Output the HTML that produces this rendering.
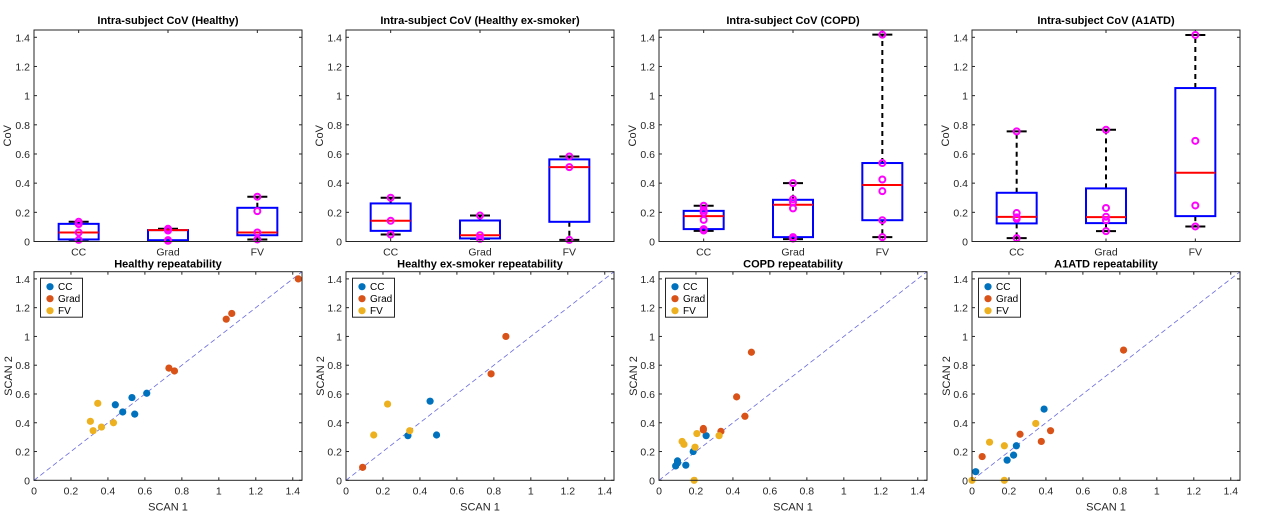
<!DOCTYPE html>
<html><head><meta charset="utf-8"><style>
body{margin:0;background:#fff;}
svg{display:block;font-family:"Liberation Sans",Arial,sans-serif;}
</style></head><body>
<svg id="fig" width="1278" height="519" viewBox="0 0 1278 519" xmlns="http://www.w3.org/2000/svg"></svg>
<script>
const panelTitles = ["Healthy","Healthy ex-smoker","COPD","A1ATD"];
const boxCategories = ["CC","Grad","FV"];
const yTicks = [0,0.2,0.4,0.6,0.8,1,1.2,1.4];
const yTickLabels = ["0","0.2","0.4","0.6","0.8","1","1.2","1.4"];
// box stats per panel per category: [whiskerLow, q1, median, q3, whiskerHigh]
const boxStatsHealthy = [[0.011,0.014,0.062,0.121,0.135],[0.005,0.009,0.078,0.078,0.087],[0.014,0.043,0.062,0.231,0.307]];
const boxStatsExSmoker = [[0.048,0.073,0.142,0.261,0.30],[0.018,0.021,0.043,0.144,0.178],[0.011,0.135,0.51,0.563,0.583]];
const boxStatsCOPD = [[0.073,0.085,0.174,0.21,0.245],[0.016,0.03,0.252,0.286,0.40],[0.03,0.146,0.387,0.538,1.418]];
const boxStatsA1ATD = [[0.023,0.124,0.169,0.334,0.755],[0.071,0.126,0.167,0.364,0.766],[0.103,0.174,0.471,1.052,1.416]];
const boxPointsHealthy = [[0.135,0.12,0.062,0.011],[0.087,0.075,0.009,0.005],[0.307,0.208,0.062,0.014]];
const boxPointsExSmoker = [[0.30,0.142,0.048],[0.178,0.043,0.018],[0.583,0.51,0.011]];
const boxPointsCOPD = [[0.245,0.215,0.2,0.148,0.085,0.075],[0.40,0.29,0.27,0.227,0.03,0.02],[1.418,0.538,0.425,0.345,0.146,0.03]];
const boxPointsA1ATD = [[0.755,0.195,0.165,0.155,0.023],[0.766,0.23,0.17,0.145,0.071],[1.416,0.69,0.247,0.103]];
// scatter: scan1 / scan2 per series
const ccScan1Healthy=[0.44,0.48,0.53,0.545,0.61], ccScan2Healthy=[0.525,0.475,0.575,0.46,0.605];
const gradScan1Healthy=[0.73,0.76,1.04,1.07,1.43], gradScan2Healthy=[0.78,0.76,1.12,1.16,1.40];
const fvScan1Healthy=[0.305,0.32,0.345,0.365,0.43], fvScan2Healthy=[0.41,0.345,0.535,0.37,0.40];
const ccScan1Ex=[0.335,0.455,0.49], ccScan2Ex=[0.31,0.55,0.315];
const gradScan1Ex=[0.09,0.785,0.865], gradScan2Ex=[0.09,0.74,1.0];
const fvScan1Ex=[0.15,0.225,0.345], fvScan2Ex=[0.315,0.53,0.345];
const ccScan1COPD=[0.09,0.10,0.10,0.145,0.185,0.255], ccScan2COPD=[0.10,0.12,0.135,0.105,0.20,0.31];
const gradScan1COPD=[0.24,0.24,0.335,0.42,0.465,0.50], gradScan2COPD=[0.35,0.36,0.34,0.58,0.445,0.89];
const fvScan1COPD=[0.125,0.135,0.19,0.195,0.205,0.325], fvScan2COPD=[0.27,0.25,0.0,0.23,0.325,0.31];
const ccScan1A=[0.02,0.19,0.225,0.24,0.39], ccScan2A=[0.06,0.14,0.175,0.24,0.495];
const gradScan1A=[0.055,0.26,0.375,0.425,0.82], gradScan2A=[0.165,0.32,0.27,0.345,0.905];
const fvScan1A=[0.0,0.095,0.175,0.175,0.345], fvScan2A=[0.0,0.265,0.24,0.0,0.395];
const xTicks=[0,0.2,0.4,0.6,0.8,1,1.2,1.4];
const xTickLabels=["0","0.2","0.4","0.6","0.8","1","1.2","1.4"];
const seriesNames=["CC","Grad","FV"];

const boxStats=[boxStatsHealthy,boxStatsExSmoker,boxStatsCOPD,boxStatsA1ATD];
const boxPoints=[boxPointsHealthy,boxPointsExSmoker,boxPointsCOPD,boxPointsA1ATD];
const scat=[[[ccScan1Healthy,ccScan2Healthy],[gradScan1Healthy,gradScan2Healthy],[fvScan1Healthy,fvScan2Healthy]],
 [[ccScan1Ex,ccScan2Ex],[gradScan1Ex,gradScan2Ex],[fvScan1Ex,fvScan2Ex]],
 [[ccScan1COPD,ccScan2COPD],[gradScan1COPD,gradScan2COPD],[fvScan1COPD,fvScan2COPD]],
 [[ccScan1A,ccScan2A],[gradScan1A,gradScan2A],[fvScan1A,fvScan2A]]];
const colors=["#0072BD","#D95319","#EDB120"];
const NS="http://www.w3.org/2000/svg";
const svg=document.getElementById('fig');
function mk(tag,attrs,parent,txt){const e=document.createElementNS(NS,tag);for(const k in attrs)e.setAttribute(k,attrs[k]);if(txt!==undefined)e.textContent=txt;(parent||svg).appendChild(e);return e;}
const lefts=[34,346,659,972], W=268;
const YMAX=1.45;

for(let p=0;p<4;p++){
  const L=lefts[p];
  // ---- top box plot ----
  {
    const T=30,B=241.5;
    const g=mk('g',{});
    
    
    const ys=v=>B-(v/YMAX)*(B-T);
    const xs=c=>L+(c-0.5)/3*W;
    mk('rect',{x:L,y:T,width:W,height:B-T,fill:'#fff',stroke:'none'},g);
    yTicks.forEach((t,i)=>{const y=ys(t);
      mk('line',{x1:L,x2:L+3,y1:y,y2:y,stroke:'#262626'},g);
      mk('line',{x1:L+W-3,x2:L+W,y1:y,y2:y,stroke:'#262626'},g);
      const tl=mk('text',{x:L-4,y:y+4,'text-anchor':'end','font-size':'10.5',fill:'#262626'},g,yTickLabels[i]);
      });
    boxCategories.forEach((c,i)=>{const x=xs(i+1);
      mk('line',{x1:x,x2:x,y1:B,y2:B-3,stroke:'#262626'},g);
      mk('line',{x1:x,x2:x,y1:T,y2:T+3,stroke:'#262626'},g);
      const tl=mk('text',{x:x,y:B+14,'text-anchor':'middle','font-size':'10.5',fill:'#262626'},g,c);
      
      const s=boxStats[p][i]; const hw=20, cw=10;
      mk('line',{x1:x,x2:x,y1:ys(s[3]),y2:ys(s[4]),stroke:'#000','stroke-width':2,'stroke-dasharray':'5,4'},g);
      mk('line',{x1:x,x2:x,y1:ys(s[1]),y2:ys(s[0]),stroke:'#000','stroke-width':2,'stroke-dasharray':'5,4'},g);
      mk('line',{x1:x-cw,x2:x+cw,y1:ys(s[4]),y2:ys(s[4]),stroke:'#000','stroke-width':2},g);
      mk('line',{x1:x-cw,x2:x+cw,y1:ys(s[0]),y2:ys(s[0]),stroke:'#000','stroke-width':2},g);
      const bx=mk('rect',{x:x-hw,y:ys(s[3]),width:2*hw,height:ys(s[1])-ys(s[3]),fill:'none',stroke:'#0000FF','stroke-width':2},g);
      
      mk('line',{x1:x-hw,x2:x+hw,y1:ys(s[2]),y2:ys(s[2]),stroke:'#FF0000','stroke-width':2},g);
      boxPoints[p][i].forEach(v=>{const pt=mk('circle',{cx:x,cy:ys(v),r:3,fill:'none',stroke:'#FF00FF','stroke-width':2},g);
        });
    });
    mk('rect',{x:L,y:T,width:W,height:B-T,fill:'none',stroke:'#262626','stroke-width':1},g);
    const tt=mk('text',{x:L+W/2,y:T-6,'text-anchor':'middle','font-size':'11','font-weight':'bold',fill:'#000'},g,'Intra-subject CoV ('+panelTitles[p]+')');
    
    const yl=mk('text',{x:0,y:0,transform:`translate(${L-23},${(T+B)/2}) rotate(-90)`,'text-anchor':'middle','font-size':'11',fill:'#262626'},g,'CoV');
    
  }
  // ---- bottom scatter ----
  {
    const T=271.7,B=480.3;
    const g=mk('g',{});
    
    
    const ys=v=>B-(v/YMAX)*(B-T);
    const xs=v=>L+(v/YMAX)*W;
    yTicks.forEach((t,i)=>{const y=ys(t);
      mk('line',{x1:L,x2:L+3,y1:y,y2:y,stroke:'#262626'},g);
      mk('line',{x1:L+W-3,x2:L+W,y1:y,y2:y,stroke:'#262626'},g);
      const tl=mk('text',{x:L-4,y:y+4,'text-anchor':'end','font-size':'10.5',fill:'#262626'},g,yTickLabels[i]);
      });
    xTicks.forEach((t,i)=>{const x=xs(t);
      mk('line',{x1:x,x2:x,y1:B,y2:B-3,stroke:'#262626'},g);
      mk('line',{x1:x,x2:x,y1:T,y2:T+3,stroke:'#262626'},g);
      const tl=mk('text',{x:x,y:B+14,'text-anchor':'middle','font-size':'10.5',fill:'#262626'},g,xTickLabels[i]);
      });
    const dl=mk('line',{x1:xs(0),y1:ys(0),x2:xs(YMAX),y2:ys(YMAX),stroke:'#6a6ae0','stroke-width':0.8,'stroke-dasharray':'5,3'},g);
    
    scat[p].forEach((sr,si)=>{sr[0].forEach((v,k)=>{
      const c=mk('circle',{cx:xs(v),cy:ys(sr[1][k]),r:3.6,fill:colors[si]},g);
      });});
    mk('rect',{x:L,y:T,width:W,height:B-T,fill:'none',stroke:'#262626','stroke-width':1},g);
    const lg=mk('g',{},g);
    
    mk('rect',{x:L+6.5,y:T+6.5,width:42,height:39,fill:'#fff',stroke:'#262626','stroke-width':1},lg);
    seriesNames.forEach((n,i)=>{const yy=T+15+i*12;
      mk('circle',{cx:L+16,cy:yy,r:3.6,fill:colors[i]},lg);
      const le=mk('text',{x:L+24,y:yy+3.5,'font-size':'10',fill:'#000'},lg,n);
      });
    const tt=mk('text',{x:L+W/2,y:T-4,'text-anchor':'middle','font-size':'11','font-weight':'bold',fill:'#000'},g,panelTitles[p]+' repeatability');
    
    const yl=mk('text',{x:0,y:0,transform:`translate(${L-22},${(T+B)/2}) rotate(-90)`,'text-anchor':'middle','font-size':'11',fill:'#262626'},g,'SCAN 2');
    
    const xl=mk('text',{x:L+W/2,y:B+30,'text-anchor':'middle','font-size':'11',fill:'#262626'},g,'SCAN 1');
    
  }
}
</script>
</body></html>
